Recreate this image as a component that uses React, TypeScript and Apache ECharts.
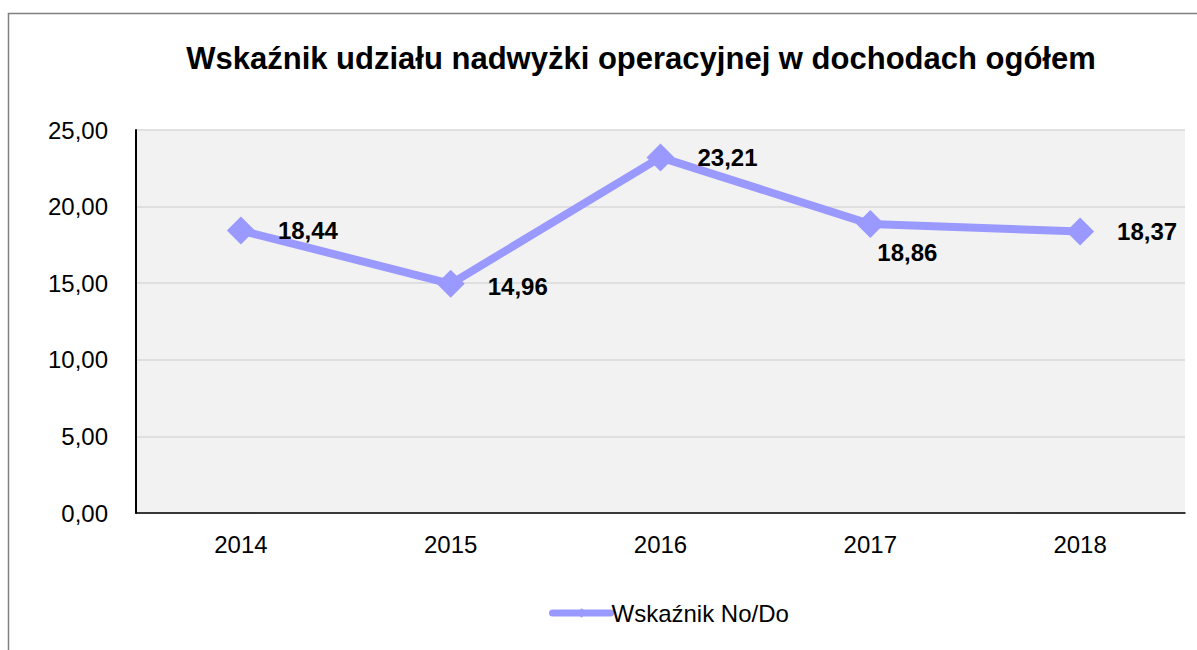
import React, { useEffect, useRef } from "react";
import * as echarts from "echarts";

const categories = ["2014", "2015", "2016", "2017", "2018"];
const values = [18.44, 14.96, 23.21, 18.86, 18.37];
const seriesName = "Wskaźnik No/Do";
const titleText = "Wskaźnik udziału nadwyżki operacyjnej w dochodach ogółem";

const FONT = "'Liberation Sans', Arial, sans-serif";

export default function App() {
  const ref = useRef<HTMLDivElement>(null);
  useEffect(() => {
    if (!ref.current) return;
    const chart = echarts.init(ref.current, undefined, { renderer: "svg" });
    const data = values.map((v, i) => {
      const item: any = { value: v };
      if (i === 3) item.label = { offset: [-30, 28] };
      if (i === 1) item.label = { offset: [0, 3] };
      return item;
    });
    chart.setOption({
      animation: false,
      textStyle: { fontFamily: FONT },
      title: {
        text: titleText,
        left: 636,
        textAlign: "center",
        top: 38,
        textStyle: { fontSize: 31, fontWeight: "bold", color: "#000", fontFamily: FONT },
      },
      graphic: [
        {
          type: "rect",
          shape: { x: 8.5, y: 13.5, width: 1200, height: 700 },
          style: { fill: "none", stroke: "#808080", lineWidth: 1.5 },
          silent: true,
          z: -10,
        },
      ],
      legend: {
        top: 596,
        left: 544,
        itemWidth: 58,
        itemHeight: 12,
        itemGap: 4,
        lineStyle: { width: 7, cap: "round" },
        textStyle: { fontSize: 24, color: "#000", fontFamily: FONT, padding: [0, 0, 0, -4] },
        data: [{ name: seriesName }],
      },
      grid: {
        left: 136,
        right: 12,
        top: 130,
        bottom: 137,
        show: true,
        backgroundColor: "#f2f2f2",
        borderWidth: 0,
      },
      xAxis: {
        type: "category",
        data: categories,
        boundaryGap: true,
        axisLine: { show: true, lineStyle: { color: "#000", width: 1.5 } },
        axisTick: { show: false },
        axisLabel: { fontSize: 24, color: "#000", margin: 19, fontFamily: FONT },
      },
      yAxis: {
        type: "value",
        min: 0,
        max: 25,
        interval: 5,
        axisLine: { show: true, lineStyle: { color: "#000", width: 2 } },
        axisTick: { show: false },
        splitLine: { show: true, lineStyle: { color: "#d9d9d9", width: 1.5 } },
        axisLabel: {
          fontSize: 24,
          color: "#000",
          margin: 28,
          fontFamily: FONT,
          formatter: (v: number) => v.toFixed(2).replace(".", ","),
        },
      },
      series: [
        {
          name: seriesName,
          type: "line",
          data,
          symbol: "diamond",
          symbolSize: 28,
          itemStyle: { color: "#9999ff" },
          lineStyle: { color: "#9999ff", width: 8 },
          label: {
            show: true,
            position: "right",
            distance: 23,
            fontSize: 24,
            fontWeight: "bold",
            color: "#000",
            fontFamily: FONT,
            formatter: (p: any) => Number(p.value).toFixed(2).replace(".", ","),
          },
        },
      ],
    });
    return () => chart.dispose();
  }, []);
  return (
    <div
      ref={ref}
      style={{ position: "fixed", left: 0, top: 0, width: 1197, height: 650, background: "#fff" }}
    />
  );
}
